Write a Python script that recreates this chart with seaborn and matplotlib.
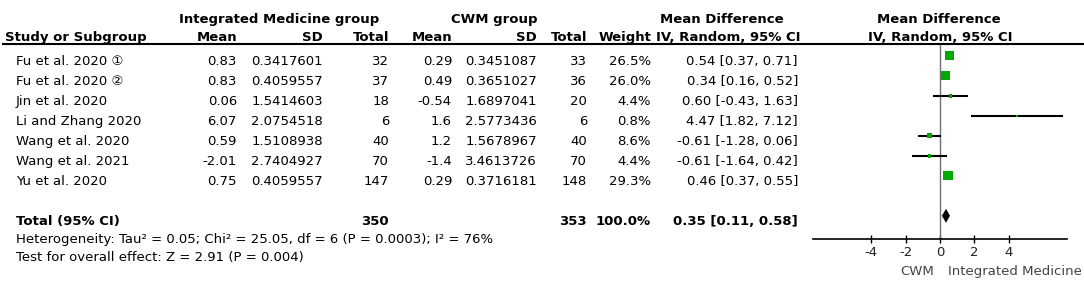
import numpy as np
import pandas as pd
import matplotlib
matplotlib.use("Agg")
import matplotlib.pyplot as plt
import seaborn as sns

# ---------------- data ----------------
studies = ["Fu et al. 2020 \u2460", "Fu et al. 2020 \u2461", "Jin et al. 2020",
           "Li and Zhang 2020", "Wang et al. 2020", "Wang et al. 2021", "Yu et al. 2020"]
im_mean = [0.83, 0.83, 0.06, 6.07, 0.59, -2.01, 0.75]
im_sd = [0.3417601, 0.4059557, 1.5414603, 2.0754518, 1.5108938, 2.7404927, 0.4059557]
im_n = [32, 37, 18, 6, 40, 70, 147]
cwm_mean = [0.29, 0.49, -0.54, 1.6, 1.2, -1.4, 0.29]
cwm_sd = [0.3451087, 0.3651027, 1.6897041, 2.5773436, 1.5678967, 3.4613726, 0.3716181]
cwm_n = [33, 36, 20, 6, 40, 70, 148]
weight = [26.5, 26.0, 4.4, 0.8, 8.6, 4.4, 29.3]
md = [0.54, 0.34, 0.60, 4.47, -0.61, -0.61, 0.46]
ci_lo = [0.37, 0.16, -0.43, 1.82, -1.28, -1.64, 0.37]
ci_hi = [0.71, 0.52, 1.63, 7.12, 0.06, 0.42, 0.55]
total_im_n = 350
total_cwm_n = 353
total_weight = 100.0
total_md = 0.35
total_lo = 0.11
total_hi = 0.58
x_ticks = [-4, -2, 0, 2, 4]
heterogeneity = "Heterogeneity: Tau\u00b2 = 0.05; Chi\u00b2 = 25.05, df = 6 (P = 0.0003); I\u00b2 = 76%"
overall = "Test for overall effect: Z = 2.91 (P = 0.004)"
left_label = "CWM"
right_label = "Integrated Medicine"

# ---------------- style ----------------
sns.set_theme(style="white")
plt.rcParams["font.family"] = ["DejaVu Sans", "Noto Sans CJK SC"]
FS = 9.5

W, H = 1084, 292
fig = plt.figure(figsize=(W / 100, H / 100), dpi=100)
fig.patch.set_facecolor("white")

# text layer in pixel coordinates
ax_t = fig.add_axes([0, 0, 1, 1])
ax_t.set_xlim(0, W)
ax_t.set_ylim(H, 0)
ax_t.axis("off")

n = len(studies)
base0, step = 65.3, 20
rows_base = [base0 + step * i for i in range(n)]
total_base = base0 + step * 8

cols = {  # right aligned x positions
    "im_mean": 237, "im_sd": 323, "im_n": 389,
    "cwm_mean": 452, "cwm_sd": 537, "cwm_n": 587,
    "w": 651, "ci": 798,
}

def T(x, y, s, ha="right", bold=False, **kw):
    ax_t.text(x, y, s, ha=ha, va="baseline", fontsize=FS,
              fontweight="bold" if bold else "normal", color="black", **kw)

def fmt_mean(v):
    s = str(v)
    return s

# headers
h1, h2 = 23.3, 41.0
T(279, h1, "Integrated Medicine group", ha="center", bold=True)
T(494, h1, "CWM group", ha="center", bold=True)
T(722, h1, "Mean Difference", ha="center", bold=True)
T(939, h1, "Mean Difference", ha="center", bold=True)
T(5, h2, "Study or Subgroup", ha="left", bold=True)
T(cols["im_mean"], h2, "Mean", bold=True)
T(cols["im_sd"], h2, "SD", bold=True)
T(cols["im_n"], h2, "Total", bold=True)
T(cols["cwm_mean"], h2, "Mean", bold=True)
T(cols["cwm_sd"], h2, "SD", bold=True)
T(cols["cwm_n"], h2, "Total", bold=True)
T(cols["w"], h2, "Weight", bold=True)
T(800, h2, "IV, Random, 95% CI", bold=True)
T(940, h2, "IV, Random, 95% CI", ha="center", bold=True)
ax_t.hlines(43.8, 2, W, color="black", lw=1.5)

for i in range(n):
    y = rows_base[i]
    T(16, y, studies[i], ha="left")
    T(cols["im_mean"], y, fmt_mean(im_mean[i]))
    T(cols["im_sd"], y, f"{im_sd[i]:.7f}")
    T(cols["im_n"], y, str(im_n[i]))
    T(cols["cwm_mean"], y, fmt_mean(cwm_mean[i]))
    T(cols["cwm_sd"], y, f"{cwm_sd[i]:.7f}")
    T(cols["cwm_n"], y, str(cwm_n[i]))
    T(cols["w"], y, f"{weight[i]:.1f}%")
    T(cols["ci"], y, f"{md[i]:.2f} [{ci_lo[i]:.2f}, {ci_hi[i]:.2f}]")

T(16, total_base, "Total (95% CI)", ha="left", bold=True)
T(cols["im_n"], total_base, str(total_im_n), bold=True)
T(cols["cwm_n"], total_base, str(total_cwm_n), bold=True)
T(cols["w"], total_base, f"{total_weight:.1f}%", bold=True)
T(cols["ci"], total_base, f"{total_md:.2f} [{total_lo:.2f}, {total_hi:.2f}]", bold=True)
T(16, 243.3, heterogeneity, ha="left")
T(16, 260.5, overall, ha="left")

# ---------------- forest panel ----------------
x0, x1 = 813, 1067
ax_f = fig.add_axes([x0 / W, 0, (x1 - x0) / W, 1])
ax_f.set_facecolor("none")
ax_f.set_xlim(-7.38, 7.38)
ax_f.set_ylim(H, 0)

mark_y = [b - 9.5 for b in rows_base]
tot_y = total_base - 9.5
axis_y = 239

ax_f.vlines(0, 44, axis_y, color="#707070", lw=1, zorder=1)
ax_f.hlines(mark_y, ci_lo, ci_hi, color="black", lw=1.5, zorder=2)

df = pd.DataFrame({"md": md, "y": mark_y, "w": weight})
sizes = {w: 1.55 * w for w in weight}
sns.scatterplot(data=df, x="md", y="y", size="w", sizes=sizes, marker="s",
                color="#00AA00", edgecolor="none", legend=False, ax=ax_f, zorder=3)

ax_f.fill([total_lo, total_md, total_hi, total_md],
          [tot_y, tot_y - 7, tot_y, tot_y + 7], color="black", lw=0, zorder=3)

for s in ["top", "left", "right"]:
    ax_f.spines[s].set_visible(False)
ax_f.spines["bottom"].set_position(("data", axis_y))
ax_f.spines["bottom"].set_color("black")
ax_f.spines["bottom"].set_linewidth(1.2)
ax_f.set_xticks(x_ticks)
ax_f.set_xticklabels([str(t) for t in x_ticks])
ax_f.tick_params(axis="x", direction="inout", length=6, width=1, color="black",
                 labelsize=FS, pad=2, labelcolor="#222222", bottom=True)
ax_f.set_yticks([])
ax_f.set_xlabel("")
ax_f.set_ylabel("")

ax_t.text(934, 275, left_label, ha="right", va="baseline", fontsize=FS, color="#444444")
ax_t.text(948, 275, right_label, ha="left", va="baseline", fontsize=FS, color="#444444")

fig.savefig("out.png", dpi=100, facecolor="white")
